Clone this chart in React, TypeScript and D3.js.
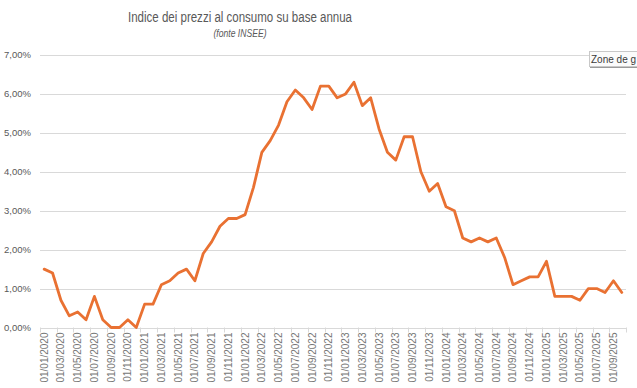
import React from "react";
import * as d3 from "d3";

const months: string[] = [];
for (let y = 2020; y <= 2025; y++) {
  for (let m = 1; m <= 12; m++) {
    if (y === 2025 && m > 10) break;
    months.push(`01/${String(m).padStart(2, "0")}/${y}`);
  }
}

const values2020 = [1.5, 1.4, 0.7, 0.3, 0.4, 0.2, 0.8, 0.2, 0.0, 0.0, 0.2, 0.0];
const values2021 = [0.6, 0.6, 1.1, 1.2, 1.4, 1.5, 1.2, 1.9, 2.2, 2.6, 2.8, 2.8];
const values2022 = [2.9, 3.6, 4.5, 4.8, 5.2, 5.8, 6.1, 5.9, 5.6, 6.2, 6.2, 5.9];
const values2023 = [6.0, 6.3, 5.7, 5.9, 5.1, 4.5, 4.3, 4.9, 4.9, 4.0, 3.5, 3.7];
const values2024 = [3.1, 3.0, 2.3, 2.2, 2.3, 2.2, 2.3, 1.8, 1.1, 1.2, 1.3, 1.3];
const values2025 = [1.7, 0.8, 0.8, 0.8, 0.7, 1.0, 1.0, 0.9, 1.2, 0.9];

const values = [...values2020, ...values2021, ...values2022, ...values2023, ...values2024, ...values2025];
const yTicks = [0, 1, 2, 3, 4, 5, 6, 7];

const W = 637;
const H = 388;
const left = 40;
const right = 626;
const top = 55;
const bottom = 327.5;

export default function App() {
  const x = d3.scaleBand<string>().domain(months).range([left, right]).padding(0);
  const bw = x.bandwidth();
  const y = d3.scaleLinear().domain([0, 7]).range([bottom, top]);
  const line = d3
    .line<number>()
    .x((_, i) => (x(months[i]) as number) + bw / 2)
    .y((d) => y(d));
  const fmt = (v: number) => v.toFixed(2).replace(".", ",") + "%";
  const tickIdx = d3.range(0, months.length + 1, 2);
  const gray = "#595959";
  const font = "'Liberation Sans', Arial, sans-serif";
  const narrow = "'Liberation Sans Narrow', 'Arial Narrow', 'Liberation Sans', sans-serif";
  return (
    <svg
      width={W}
      height={H}
      style={{ position: "fixed", left: 0, top: 0, background: "#fff" }}
      fontFamily={font}
    >
      <rect x={0} y={0} width={W} height={H} fill="#fff" />
      <text
        x={240}
        y={22}
        textAnchor="middle"
        fontSize={15.5}
        fill={gray}
        fontFamily={narrow}
        textLength={224}
        lengthAdjust="spacingAndGlyphs"
      >
        Indice dei prezzi al consumo su base annua
      </text>
      <text
        x={240}
        y={37}
        textAnchor="middle"
        fontSize={10}
        fontStyle="italic"
        fill={gray}
        fontFamily={narrow}
        textLength={53}
        lengthAdjust="spacingAndGlyphs"
      >
        (fonte INSEE)
      </text>
      {yTicks.map((t) => (
        <g key={t}>
          <line
            x1={left}
            x2={right}
            y1={Math.round(y(t)) + 0.5}
            y2={Math.round(y(t)) + 0.5}
            stroke="#d9d9d9"
            strokeWidth={1}
          />
          <text x={31} y={y(t)} dy="0.35em" textAnchor="end" fontSize={9.5} fill={gray}>
            {fmt(t)}
          </text>
        </g>
      ))}
      {tickIdx.map((i) => {
        const xx = Math.round(left + i * bw) + 0.5;
        return (
          <line key={i} x1={xx} x2={xx} y1={bottom} y2={bottom + 5} stroke="#d9d9d9" strokeWidth={1} />
        );
      })}
      {months.map((m, i) =>
        i % 2 === 0 ? (
          <text
            key={m}
            transform={`translate(${(x(m) as number) + bw / 2},${bottom + 5}) rotate(-90)`}
            textAnchor="end"
            dy="0.35em"
            fontSize={10}
            fill="#767676"
          >
            {m}
          </text>
        ) : null
      )}
      <path
        d={line(values) || ""}
        fill="none"
        stroke="#E97132"
        strokeWidth={2.8}
        strokeLinejoin="round"
        strokeLinecap="round"
      />
      <g>
        <rect x={589.5} y={51.5} width={60} height={15} fill="#fbfbfb" stroke="#c8c8c8" strokeWidth={1} />
        <line x1={590} x2={637} y1={67.5} y2={67.5} stroke="#9a9a9a" strokeWidth={1} />
        <text x={591} y={63} fontSize={10} fill="#3a3a3a">
          Zone de g
        </text>
      </g>
    </svg>
  );
}
